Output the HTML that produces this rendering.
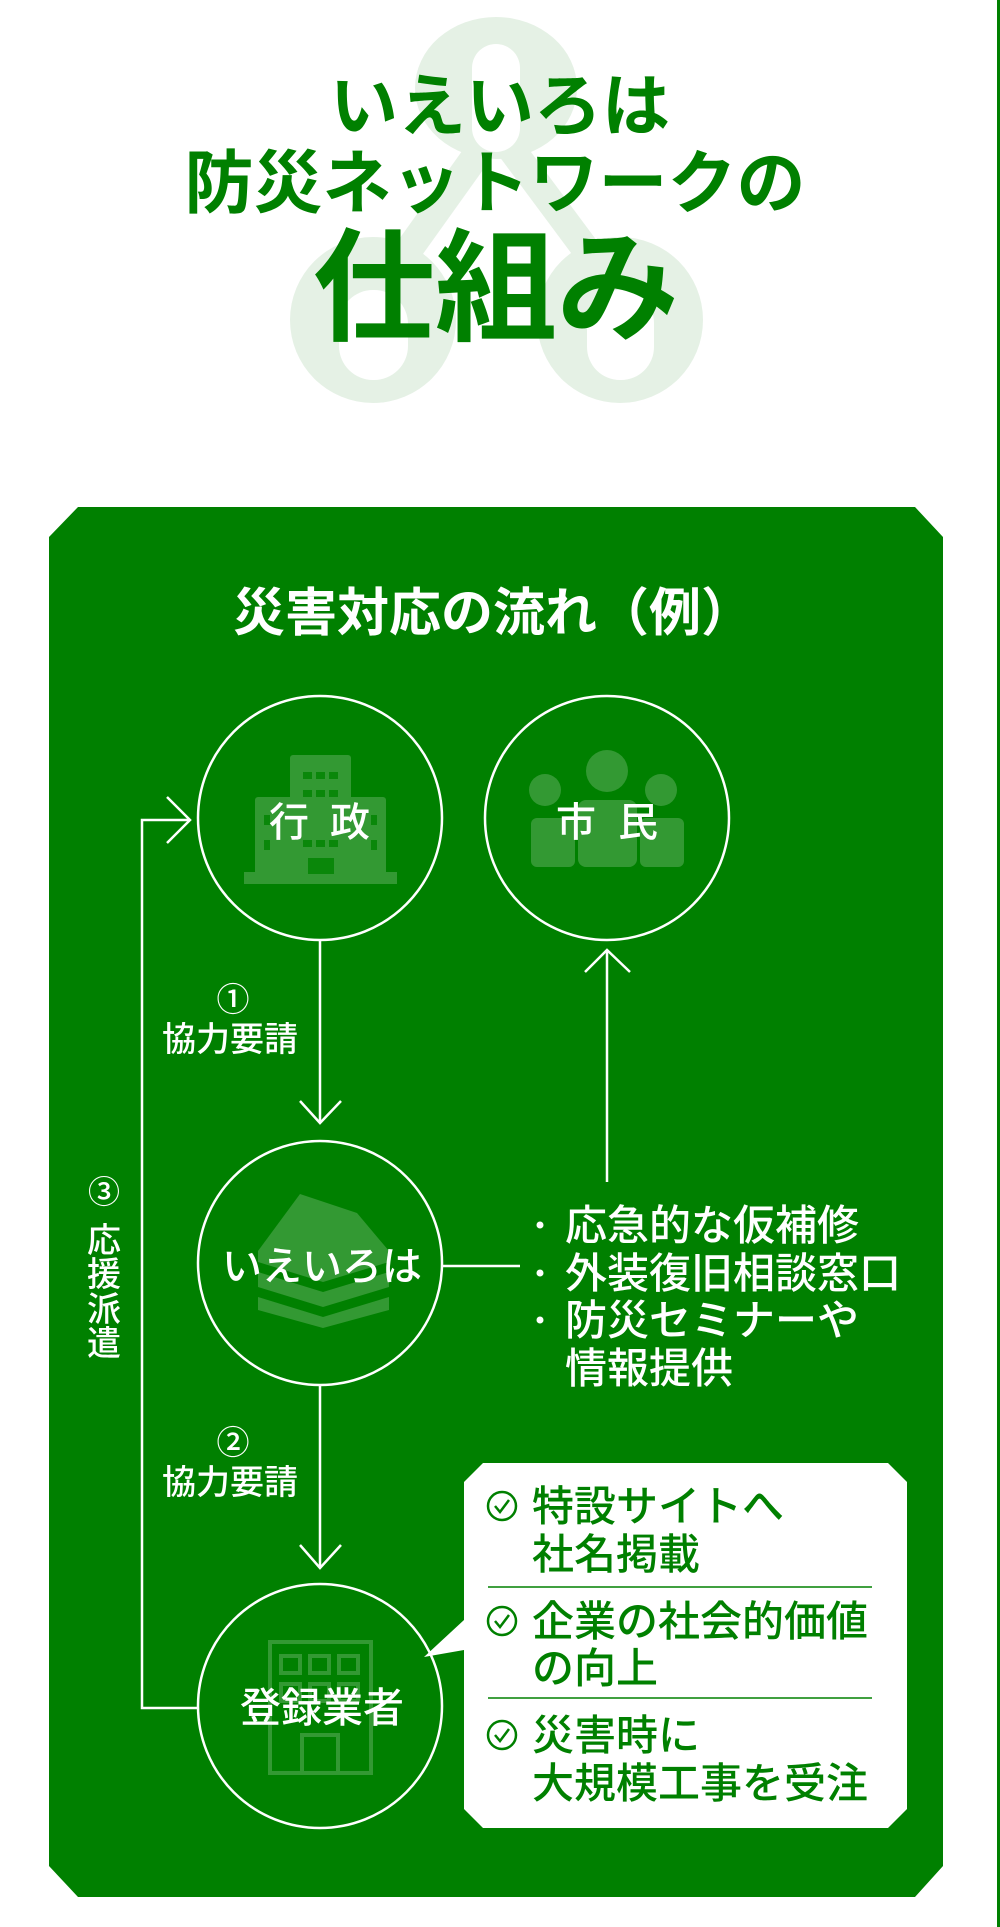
<!DOCTYPE html>
<html><head><meta charset="utf-8"><style>
html,body{margin:0;padding:0;background:#fff;}
svg{display:block;}
text{font-family:"Liberation Sans","Noto Sans CJK JP",sans-serif;}
</style></head><body>
<svg width="1000" height="1927" viewBox="0 0 1000 1927" xmlns="http://www.w3.org/2000/svg">
<rect x="0" y="0" width="1000" height="1927" fill="#fff"/>
<rect x="997" y="0" width="3" height="1927" fill="#008000"/>
<g fill="#e5f1e5">
<line x1="480" y1="150" x2="405" y2="255" stroke="#e5f1e5" stroke-width="28"/>
<line x1="512" y1="150" x2="590" y2="255" stroke="#e5f1e5" stroke-width="28"/>
<ellipse cx="496" cy="88" rx="81" ry="71"/>
<circle cx="373" cy="320" r="83"/>
<circle cx="620" cy="320" r="83"/>
</g>
<g fill="#fff">
<rect x="472" y="44" width="48" height="108" rx="24"/>
<rect x="339" y="290" width="69" height="90" rx="34"/>
<rect x="587" y="290" width="67" height="90" rx="33"/>
</g>
<g fill="#008000" font-weight="700" text-anchor="middle">
<text x="500" y="130" font-size="68">いえいろは</text>
<text x="495" y="207" font-size="69">防災ネットワークの</text>
<text x="496" y="331" font-size="122">仕組み</text>
</g>
<polygon points="78,507 915,507 943,537 943,1866 915,1897 78,1897 49,1866 49,537" fill="#008000"/>
<text x="493" y="631" font-size="52" font-weight="700" fill="#fff" text-anchor="middle">災害対応の流れ（例）</text>
<g fill="#339933">
<rect x="290" y="755" width="61" height="125" rx="3"/>
<rect x="255" y="797" width="131" height="80" rx="3"/>
<rect x="244" y="872" width="153" height="12"/>
<circle cx="607" cy="771" r="21"/>
<circle cx="545" cy="790" r="16"/>
<circle cx="661" cy="790" r="16"/>
<rect x="531" y="818" width="44" height="49" rx="6"/>
<rect x="640" y="818" width="44" height="49" rx="6"/>
<rect x="578" y="800" width="59" height="67" rx="8"/>
<polygon points="258,1251 300,1194 357,1213 389,1251 389,1262 323,1282 258,1262"/>
<polygon points="258,1272 323,1292 389,1272 389,1287 323,1307 258,1287"/>
<polygon points="258,1297 323,1317 389,1297 389,1310 323,1328 258,1310"/>
</g>
<g fill="#0a870a">
<rect x="303" y="772" width="9" height="7"/><rect x="316" y="772" width="9" height="7"/><rect x="329" y="772" width="9" height="7"/>
<rect x="303" y="790" width="9" height="7"/><rect x="316" y="790" width="9" height="7"/><rect x="329" y="790" width="9" height="7"/>
<rect x="303" y="840" width="9" height="7"/><rect x="316" y="840" width="9" height="7"/><rect x="329" y="840" width="9" height="7"/>
<rect x="264" y="815" width="6" height="10"/><rect x="371" y="815" width="6" height="10"/>
<rect x="264" y="840" width="6" height="10"/><rect x="371" y="840" width="6" height="10"/>
<rect x="308" y="858" width="26" height="16"/>
</g>
<g fill="none" stroke="#339933" stroke-width="4">
<rect x="270" y="1642" width="101" height="131"/>
<rect x="281" y="1656" width="19" height="17"/><rect x="310" y="1656" width="19" height="17"/><rect x="339" y="1656" width="19" height="17"/>
<rect x="281" y="1684" width="19" height="17"/><rect x="310" y="1684" width="19" height="17"/><rect x="339" y="1684" width="19" height="17"/>
<rect x="302" y="1735" width="36" height="38"/>
</g>
<g fill="none" stroke="#fff" stroke-width="2.5">
<circle cx="320" cy="818" r="122"/>
<circle cx="607" cy="818" r="122"/>
<circle cx="320" cy="1263" r="122"/>
<circle cx="320" cy="1706" r="122"/>
<line x1="320" y1="940" x2="320" y2="1123"/>
<polyline points="300,1101 320,1123 341,1101"/>
<line x1="320" y1="1385" x2="320" y2="1568"/>
<polyline points="300,1545 320,1568 341,1545"/>
<line x1="607" y1="950" x2="607" y2="1182"/>
<polyline points="585,972 607,950 630,972"/>
<line x1="443" y1="1266" x2="520" y2="1266"/>
<polyline points="198,1708 142,1708 142,820 190,820"/>
<polyline points="167,797 190,820 167,843"/>
</g>
<g fill="#fff" text-anchor="middle" font-weight="500">
<text x="289" y="836" font-size="40">行</text>
<text x="350" y="836" font-size="40">政</text>
<text x="576" y="836" font-size="40">市</text>
<text x="638" y="836" font-size="40">民</text>
<text x="322" y="1280" font-size="40">いえいろは</text>
<text x="322" y="1722" font-size="41">登録業者</text>
<text x="233" y="1011" font-size="33">①</text>
<text x="230" y="1051" font-size="34">協力要請</text>
<text x="233" y="1454" font-size="33">②</text>
<text x="230" y="1494" font-size="34">協力要請</text>
<text x="104" y="1203" font-size="32">③</text>
<text x="104" y="1252" font-size="34">応</text>
<text x="104" y="1286" font-size="34">援</text>
<text x="104" y="1321" font-size="34">派</text>
<text x="104" y="1355" font-size="34">遣</text>
</g>
<g fill="#fff" font-weight="500">
<circle cx="540" cy="1225" r="3.5"/><circle cx="540" cy="1273" r="3.5"/><circle cx="540" cy="1320" r="3.5"/>
<text x="565" y="1240" font-size="42">応急的な仮補修</text>
<text x="565" y="1288" font-size="42">外装復旧相談窓口</text>
<text x="565" y="1335" font-size="42">防災セミナーや</text>
<text x="565" y="1383" font-size="42">情報提供</text>
</g>
<polygon points="483,1463 888,1463 907,1482 907,1809 888,1828 483,1828 464,1809 464,1650 424,1657 464,1620 464,1482" fill="#fff"/>
<g stroke="#008000" stroke-width="1.5">
<line x1="488" y1="1587" x2="872" y2="1587"/>
<line x1="488" y1="1698" x2="872" y2="1698"/>
</g>
<g fill="none" stroke="#008000" stroke-width="2.5">
<circle cx="502" cy="1506" r="14"/><polyline points="495,1506 500,1512 509,1500"/>
<circle cx="502" cy="1621" r="14"/><polyline points="495,1621 500,1627 509,1615"/>
<circle cx="502" cy="1735" r="14"/><polyline points="495,1735 500,1741 509,1729"/>
</g>
<g fill="#008000" font-size="42" font-weight="500">
<text x="532" y="1521">特設サイトへ</text>
<text x="532" y="1569">社名掲載</text>
<text x="532" y="1636">企業の社会的価値</text>
<text x="532" y="1683">の向上</text>
<text x="532" y="1750">災害時に</text>
<text x="532" y="1798">大規模工事を受注</text>
</g>
</svg>
</body></html>
